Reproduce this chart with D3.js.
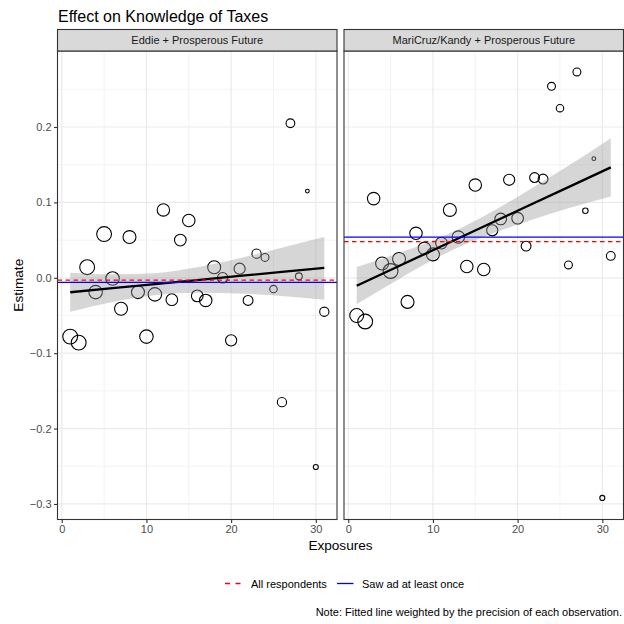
<!DOCTYPE html>
<html>
<head>
<meta charset="utf-8">
<script src="https://cdn.jsdelivr.net/npm/d3@7"></script>
<style>
  body { margin: 0; background: #fff; }
  svg text { font-family: "Liberation Sans", Arial, sans-serif; }
</style>
</head>
<body>
<div id="chart"></div>
<script>
// exposures 1..31 shared by both panels
var exposures = [1, 2, 3, 4, 5, 6, 7, 8, 9, 10, 11, 12, 13, 14, 15, 16, 17, 18, 19, 20, 21, 22, 23, 24, 25, 26, 27, 28, 29, 30, 31];

// Eddie + Prosperous Future
var eddieEst = [-0.078, -0.086, 0.014, -0.019, 0.058, -0.001, -0.041, 0.054, -0.019, -0.078, -0.022, 0.090, -0.029, 0.050, 0.076, -0.024,
    -0.030, 0.014, 0.000, -0.083, 0.012, -0.030, 0.032, 0.027, -0.015, -0.165, 0.205, 0.002, 0.115, -0.251, -0.045];
var eddiePrec = [95, 95, 95, 79, 95, 79, 73, 73, 73, 79, 79, 67, 59, 59, 67, 59, 67, 73, 48, 54, 54, 42, 37, 27, 24, 37, 33, 20, 6, 11, 37];

// MariCruz/Kandy + Prosperous Future
var mariEst = [-0.050, -0.058, 0.105, 0.019, 0.009, 0.025, -0.032, 0.059, 0.039, 0.031, 0.046, 0.090, 0.054, 0.015, 0.123, 0.011,
    0.063, 0.078, 0.130, 0.079, 0.042, 0.133, 0.131, 0.254, 0.225, 0.017, 0.273, 0.089, 0.158, -0.292, 0.029];
var mariPrec = [84, 95, 67, 73, 95, 73, 73, 67, 67, 73, 59, 73, 67, 67, 67, 67, 54, 59, 54, 59, 42, 42, 42, 27, 24, 27, 27, 13, 6, 11, 33];

// weighted fit + confidence band, read at these exposures
var fitX = [1, 6, 11, 16, 21, 26, 31];
var eddieFit = [-0.0192, -0.0138, -0.0084, -0.0030, 0.0024, 0.0078, 0.0132];
var eddieLo = [-0.045, -0.032, -0.023, -0.020, -0.021, -0.024, -0.029];
var eddieHi = [0.0068, 0.0046, 0.0061, 0.0139, 0.026, 0.040, 0.054];
var mariFit = [-0.0105, 0.0157, 0.0418, 0.068, 0.0942, 0.1203, 0.1464];
var mariLo = [-0.035, -0.0015, 0.0295, 0.0543, 0.0742, 0.0921, 0.1077];
var mariHi = [0.0143, 0.0329, 0.0541, 0.0817, 0.1142, 0.1485, 0.1851];

// reference lines: all respondents, saw ad at least once
var allResp = [-0.003, 0.048];
var sawAd = [-0.006, 0.054];

var panelNames = ["Eddie + Prosperous Future", "MariCruz/Kandy + Prosperous Future"];
var xTicks = [0, 10, 20, 30];
var xMinor = [5, 15, 25];
var yTicks = [-0.3, -0.2, -0.1, 0.0, 0.1, 0.2];
var yMinor = [-0.25, -0.15, -0.05, 0.05, 0.15, 0.25];

var W = 624, H = 624;
var pTop = 51, pBottom = 519.5;
var panelsX = [[57.5, 337], [344, 623.5]];

var svg = d3.select("#chart").append("svg").attr("width", W).attr("height", H);

var yscale = d3.scaleLinear().domain([-0.3206, 0.3008]).range([pBottom, pTop]);
var fmt = d3.format(".1f");

svg.append("text").attr("x", 58).attr("y", 21.5)
    .attr("font-size", 16).attr("fill", "#000")
    .text("Effect on Knowledge of Taxes");

var panelData = [
    {est: eddieEst, prec: eddiePrec, fit: eddieFit, lo: eddieLo, hi: eddieHi},
    {est: mariEst, prec: mariPrec, fit: mariFit, lo: mariLo, hi: mariHi}
];

var rscale = d3.scaleSqrt().domain([0, 100]).range([0, 7.6]);

panelData.forEach(function (p, k) {
    var x0 = panelsX[k][0], x1 = panelsX[k][1];
    var xscale = d3.scaleLinear().domain([-0.5, 32.5]).range([x0, x1]);
    var g = svg.append("g");

    // grid
    g.selectAll(".ym").data(yMinor).enter().append("line")
        .attr("x1", x0).attr("x2", x1)
        .attr("y1", yscale).attr("y2", yscale)
        .attr("stroke", "#EBEBEB").attr("stroke-width", 0.6);
    g.selectAll(".xm").data(xMinor).enter().append("line")
        .attr("x1", xscale).attr("x2", xscale)
        .attr("y1", pTop).attr("y2", pBottom)
        .attr("stroke", "#EBEBEB").attr("stroke-width", 0.6);
    g.selectAll(".yM").data(yTicks).enter().append("line")
        .attr("x1", x0).attr("x2", x1)
        .attr("y1", yscale).attr("y2", yscale)
        .attr("stroke", "#EBEBEB").attr("stroke-width", 1.2);
    g.selectAll(".xM").data(xTicks).enter().append("line")
        .attr("x1", xscale).attr("x2", xscale)
        .attr("y1", pTop).attr("y2", pBottom)
        .attr("stroke", "#EBEBEB").attr("stroke-width", 1.2);

    // points
    g.selectAll("circle").data(exposures).enter().append("circle")
        .attr("cx", function (d) { return xscale(d); })
        .attr("cy", function (d, i) { return yscale(p.est[i]); })
        .attr("r", function (d, i) { return rscale(p.prec[i]); })
        .attr("fill", "none").attr("stroke", "#000").attr("stroke-width", 1.1);

    // confidence band
    var area = d3.area()
        .x(function (d) { return xscale(d); })
        .y0(function (d, i) { return yscale(p.lo[i]); })
        .y1(function (d, i) { return yscale(p.hi[i]); })
        .curve(d3.curveMonotoneX);
    g.append("path").datum(fitX).attr("d", area)
        .attr("fill", "#999999").attr("fill-opacity", 0.4);

    var line = d3.line()
        .x(function (d) { return xscale(d); })
        .y(function (d, i) { return yscale(p.fit[i]); });
    g.append("path").datum(fitX).attr("d", line)
        .attr("fill", "none").attr("stroke", "#000").attr("stroke-width", 2.3);

    // reference lines
    g.append("line").attr("x1", x0).attr("x2", x1)
        .attr("y1", yscale(sawAd[k])).attr("y2", yscale(sawAd[k]))
        .attr("stroke", "#0000FF").attr("stroke-width", 1.3);
    g.append("line").attr("x1", x0).attr("x2", x1)
        .attr("y1", yscale(allResp[k])).attr("y2", yscale(allResp[k]))
        .attr("stroke", "#FF0000").attr("stroke-width", 1.3)
        .attr("stroke-dasharray", "4.5,3.5");

    // border
    g.append("rect").attr("x", x0).attr("y", pTop)
        .attr("width", x1 - x0).attr("height", pBottom - pTop)
        .attr("fill", "none").attr("stroke", "#333333").attr("stroke-width", 1.1);

    // strip
    g.append("rect").attr("x", x0).attr("y", 29.5)
        .attr("width", x1 - x0).attr("height", pTop - 29.5)
        .attr("fill", "#D9D9D9").attr("stroke", "#333333").attr("stroke-width", 1.1);
    g.append("text").attr("x", (x0 + x1) / 2).attr("y", 44.2)
        .attr("text-anchor", "middle").attr("font-size", 11).attr("fill", "#1A1A1A")
        .text(panelNames[k]);

    // x axis
    var xa = svg.append("g").attr("transform", "translate(0," + pBottom + ")")
        .call(d3.axisBottom(xscale).tickValues(xTicks).tickSize(3.5).tickPadding(2.5).tickFormat(d3.format("d")));
    xa.select(".domain").remove();
    xa.selectAll("line").attr("stroke", "#333333").attr("stroke-width", 1.1);
    xa.selectAll("text").attr("font-size", 11).attr("fill", "#4D4D4D")
        .attr("font-family", "Liberation Sans, Arial, sans-serif");

    if (k === 0) {
        var ya = svg.append("g").attr("transform", "translate(" + x0 + ",0)")
            .call(d3.axisLeft(yscale).tickValues(yTicks).tickSize(3.5).tickPadding(2.5).tickFormat(fmt));
        ya.select(".domain").remove();
        ya.selectAll("line").attr("stroke", "#333333").attr("stroke-width", 1.1);
        ya.selectAll("text").attr("font-size", 11).attr("fill", "#4D4D4D")
            .attr("font-family", "Liberation Sans, Arial, sans-serif");
    }
});

// axis titles
svg.append("text").attr("x", 340.5).attr("y", 550)
    .attr("text-anchor", "middle").attr("font-size", 13.6).text("Exposures");
svg.append("text").attr("transform", "translate(23," + ((pTop + pBottom) / 2) + ") rotate(-90)")
    .attr("text-anchor", "middle").attr("font-size", 13.6).text("Estimate");

// legend
var lg = svg.append("g");
lg.append("line").attr("x1", 225).attr("x2", 240.5).attr("y1", 583.5).attr("y2", 583.5)
    .attr("stroke", "#FF0000").attr("stroke-width", 1.3).attr("stroke-dasharray", "5,5.5");
lg.append("text").attr("x", 251).attr("y", 587.5).attr("font-size", 11).text("All respondents");
lg.append("line").attr("x1", 337).attr("x2", 353.5).attr("y1", 583.5).attr("y2", 583.5)
    .attr("stroke", "#0000FF").attr("stroke-width", 1.3);
lg.append("text").attr("x", 362).attr("y", 587.5).attr("font-size", 11).text("Saw ad at least once");

svg.append("text").attr("x", 622).attr("y", 616).attr("text-anchor", "end")
    .attr("font-size", 11).text("Note: Fitted line weighted by the precision of each observation.");
</script>
</body>
</html>
